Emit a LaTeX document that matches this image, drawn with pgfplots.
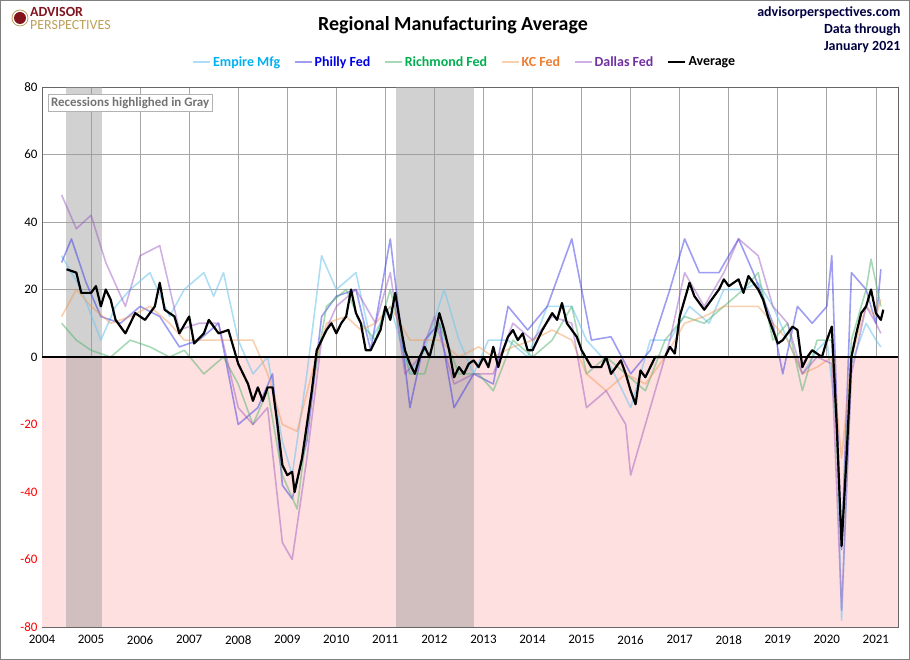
\documentclass[border=0pt]{standalone}
\usepackage{pgfplots}
\pgfplotsset{compat=1.18}
\usepackage{fontspec}
\setmainfont{Carlito}
\definecolor{cEmp}{RGB}{120,200,240}
\definecolor{cPhil}{RGB}{60,60,230}
\definecolor{cRich}{RGB}{80,180,110}
\definecolor{cKC}{RGB}{240,150,80}
\definecolor{cDal}{RGB}{150,80,190}
\definecolor{tEmp}{RGB}{0,176,240}
\definecolor{tPhil}{RGB}{0,0,230}
\definecolor{tRich}{RGB}{0,176,80}
\definecolor{tKC}{RGB}{237,125,49}
\definecolor{tDal}{RGB}{112,48,160}
\definecolor{apred}{RGB}{130,20,30}
\definecolor{apgold}{RGB}{190,160,90}
\begin{document}
\begin{tikzpicture}
\useasboundingbox (-42bp,-33bp) rectangle (868bp,627bp);
\draw[gray,line width=1pt] (-41.5bp,-32.5bp) rectangle (867.5bp,626.5bp);
\begin{axis}[at={(0,0)},anchor=south west,scale only axis,width=856bp,height=540bp,
 xmin=2004,xmax=2021.45,ymin=-80,ymax=80,
 xtick={2004,...,2021},ytick={-80,-60,...,80},
 xticklabel style={/pgf/number format/1000 sep={},yshift=-5bp},
 yticklabel={\pgfmathparse{\tick<0}\ifnum\pgfmathresult=1 \textcolor{red}{\pgfmathprintnumber{\tick}}\else\pgfmathprintnumber{\tick}\fi},
 yticklabel style={xshift=-1bp},
 /pgf/number format/assume math mode=true,
 tick label style={font=\fontsize{13}{15}\selectfont},
 grid=major,grid style={gray!70,line width=0.6pt},
 axis line style={gray!80!black,line width=0.8pt},
 tick style={draw=none},
 legend style={at={(0.494,1.046)},anchor=center,draw=none,fill=none,legend columns=6,
   font=\fontsize{14}{16}\selectfont\bfseries,/tikz/every even column/.append style={column sep=12pt}},
 legend cell align=left,
 every axis plot/.append style={line width=1.6pt,line join=round},
]
\addplot[draw=none,fill=red!12,forget plot] coordinates {(2004,0)(2021.45,0)(2021.45,-80)(2004,-80)} --cycle;
\addplot[draw=none,fill=black!40,opacity=0.45,forget plot] coordinates {(2004.48,80)(2005.22,80)(2005.22,-80)(2004.48,-80)} --cycle;
\addplot[draw=none,fill=black!40,opacity=0.45,forget plot] coordinates {(2011.22,80)(2012.81,80)(2012.81,-80)(2011.22,-80)} --cycle;
\addplot[cEmp,opacity=0.6] coordinates {(2004.4,30)(2004.8,20)(2005.2,5)(2005.5,15)(2005.8,20)(2006.2,25)(2006.6,12)(2006.9,20)(2007.3,25)(2007.5,18)(2007.7,25)(2008.0,5)(2008.3,-5)(2008.6,0)(2008.9,-25)(2009.1,-35)(2009.4,-5)(2009.7,30)(2010.0,20)(2010.4,25)(2010.7,5)(2011.1,15)(2011.5,-5)(2011.8,2)(2012.2,20)(2012.5,5)(2012.8,-5)(2013.1,5)(2013.5,5)(2013.9,0)(2014.3,15)(2014.8,15)(2015.1,5)(2015.6,-3)(2016.0,-15)(2016.4,5)(2016.8,5)(2017.2,15)(2017.6,10)(2017.9,20)(2018.3,20)(2018.6,22)(2018.9,15)(2019.2,5)(2019.5,-5)(2019.8,2)(2020.0,5)(2020.2,-20)(2020.3,-78)(2020.5,-2)(2020.8,10)(2021.0,5)(2021.1,3)};
\addlegendentry{\textcolor{tEmp}{Empire Mfg}}
\addplot[cPhil,opacity=0.5] coordinates {(2004.4,28)(2004.6,35)(2004.9,22)(2005.2,12)(2005.6,10)(2006.0,15)(2006.4,12)(2006.8,3)(2007.2,5)(2007.6,10)(2008.0,-20)(2008.4,-15)(2008.7,-5)(2008.9,-38)(2009.1,-42)(2009.4,-25)(2009.7,12)(2010.0,18)(2010.4,20)(2010.7,2)(2011.1,35)(2011.5,-15)(2011.8,5)(2012.1,10)(2012.4,-15)(2012.8,-5)(2013.2,-8)(2013.5,15)(2013.9,8)(2014.3,15)(2014.8,35)(2015.2,5)(2015.6,6)(2016.0,-5)(2016.4,2)(2016.8,20)(2017.1,35)(2017.4,25)(2017.8,25)(2018.2,35)(2018.5,25)(2018.9,10)(2019.1,-5)(2019.4,15)(2019.7,10)(2020.0,15)(2020.1,30)(2020.3,-57)(2020.5,25)(2020.8,20)(2021.0,10)(2021.1,26)};
\addlegendentry{\textcolor{tPhil}{Philly Fed}}
\addplot[cRich,opacity=0.5] coordinates {(2004.4,10)(2004.7,5)(2005.0,2)(2005.4,0)(2005.8,5)(2006.2,3)(2006.6,0)(2006.9,2)(2007.3,-5)(2007.7,0)(2008.0,-8)(2008.3,-20)(2008.6,-10)(2008.9,-35)(2009.2,-45)(2009.5,-10)(2009.8,15)(2010.2,20)(2010.5,10)(2010.8,5)(2011.1,20)(2011.5,-5)(2011.8,-5)(2012.1,10)(2012.5,-5)(2012.9,-5)(2013.2,-10)(2013.6,5)(2014.0,0)(2014.4,5)(2014.8,15)(2015.1,-5)(2015.5,0)(2015.9,-5)(2016.3,-10)(2016.7,5)(2017.1,12)(2017.5,10)(2017.9,15)(2018.3,20)(2018.6,25)(2018.9,5)(2019.2,10)(2019.5,-10)(2019.8,5)(2020.1,5)(2020.3,-55)(2020.5,5)(2020.8,20)(2020.9,29)(2021.1,15)};
\addlegendentry{\textcolor{tRich}{Richmond Fed}}
\addplot[cKC,opacity=0.45] coordinates {(2004.4,12)(2004.7,20)(2005.0,15)(2005.4,10)(2005.8,12)(2006.2,15)(2006.6,10)(2006.9,5)(2007.3,5)(2007.7,5)(2008.0,5)(2008.3,5)(2008.6,-5)(2008.9,-20)(2009.2,-22)(2009.5,-5)(2009.8,10)(2010.2,12)(2010.5,8)(2010.8,10)(2011.1,15)(2011.5,5)(2011.8,5)(2012.1,5)(2012.5,0)(2012.9,3)(2013.2,0)(2013.6,3)(2014.0,5)(2014.4,8)(2014.8,5)(2015.1,-5)(2015.5,-10)(2015.9,-5)(2016.3,-8)(2016.7,0)(2017.1,10)(2017.5,12)(2017.9,15)(2018.3,15)(2018.6,15)(2018.9,10)(2019.2,5)(2019.5,-5)(2019.8,-3)(2020.1,0)(2020.3,-30)(2020.5,0)(2020.8,15)(2021.0,12)(2021.1,17)};
\addlegendentry{\textcolor{tKC}{KC Fed}}
\addplot[cDal,opacity=0.45] coordinates {(2004.4,48)(2004.7,38)(2005.0,42)(2005.3,28)(2005.7,15)(2006.0,30)(2006.4,33)(2006.8,8)(2007.2,10)(2007.6,10)(2008.0,-15)(2008.3,-20)(2008.6,-15)(2008.9,-55)(2009.1,-60)(2009.4,-30)(2009.7,5)(2010.0,15)(2010.4,20)(2010.8,10)(2011.1,25)(2011.4,-5)(2011.7,0)(2012.0,12)(2012.4,-8)(2012.8,-5)(2013.2,-5)(2013.6,10)(2014.0,5)(2014.4,12)(2014.8,10)(2015.1,-15)(2015.5,-10)(2015.9,-20)(2016.0,-35)(2016.4,-15)(2016.8,5)(2017.1,25)(2017.5,15)(2017.9,25)(2018.2,35)(2018.6,30)(2018.9,15)(2019.2,10)(2019.5,-5)(2019.8,0)(2020.1,-2)(2020.3,-75)(2020.5,-5)(2020.8,15)(2021.0,10)(2021.1,7)};
\addlegendentry{\textcolor{tDal}{Dallas Fed}}
\addplot[black,line width=2.2pt] coordinates {(2004.5,26)(2004.7,25)(2004.8,19)(2005.0,19)(2005.1,21)(2005.2,15)(2005.3,20)(2005.4,17)(2005.5,11)(2005.7,7)(2005.9,13)(2006.1,11)(2006.3,15)(2006.4,22)(2006.5,14)(2006.7,12)(2006.8,7)(2007.0,12)(2007.1,4)(2007.3,7)(2007.4,11)(2007.6,7)(2007.8,8)(2007.9,3)(2008.0,-2)(2008.2,-8)(2008.3,-13)(2008.4,-9)(2008.5,-13)(2008.6,-9)(2008.7,-9)(2008.8,-20)(2008.9,-32)(2009.0,-35)(2009.1,-34)(2009.15,-40)(2009.3,-30)(2009.4,-20)(2009.5,-10)(2009.6,2)(2009.8,8)(2009.9,10)(2010.0,7)(2010.1,10)(2010.2,12)(2010.3,20)(2010.4,13)(2010.5,10)(2010.6,2)(2010.7,2)(2010.9,8)(2011.0,15)(2011.1,11)(2011.2,19)(2011.3,10)(2011.4,2)(2011.5,-2)(2011.6,-5)(2011.7,0)(2011.8,3)(2011.9,0)(2012.0,6)(2012.1,13)(2012.2,8)(2012.3,2)(2012.4,-6)(2012.5,-3)(2012.6,-5)(2012.7,-2)(2012.8,-1)(2012.9,-3)(2013.0,0)(2013.1,-3)(2013.2,3)(2013.3,-3)(2013.4,2)(2013.5,6)(2013.6,8)(2013.7,5)(2013.8,7)(2013.9,2)(2014.0,2)(2014.2,8)(2014.4,13)(2014.5,11)(2014.6,16)(2014.7,10)(2014.8,8)(2014.9,6)(2015.0,2)(2015.2,-3)(2015.4,-3)(2015.5,0)(2015.6,-5)(2015.8,-1)(2015.9,-5)(2016.0,-10)(2016.1,-14)(2016.2,-4)(2016.3,-6)(2016.5,0)(2016.7,0)(2016.8,3)(2016.9,1)(2017.0,12)(2017.2,22)(2017.3,18)(2017.5,14)(2017.6,16)(2017.8,20)(2017.9,23)(2018.0,21)(2018.2,23)(2018.3,19)(2018.4,24)(2018.5,22)(2018.6,20)(2018.7,17)(2018.8,12)(2018.9,8)(2019.0,4)(2019.1,5)(2019.3,9)(2019.4,8)(2019.5,-3)(2019.6,0)(2019.7,2)(2019.9,0)(2020.0,5)(2020.1,9)(2020.2,-20)(2020.3,-56)(2020.4,-30)(2020.5,0)(2020.6,7)(2020.7,13)(2020.8,15)(2020.9,20)(2021.0,13)(2021.1,11)(2021.15,14)};
\addlegendentry{Average}
\addplot[black,line width=1.2pt,forget plot] coordinates {(2004,0)(2021.45,0)};
\node[draw=gray!60,fill=white,anchor=north west,inner sep=3pt,text=gray!90!black,font=\fontsize{13}{15}\selectfont\bfseries] at (axis cs:2004.12,78) {Recessions highlighed in Gray};
\end{axis}
\node[font=\fontsize{20}{24}\selectfont\bfseries] at (411bp,602bp) {Regional Manufacturing Average};
\node[anchor=north east,align=right,font=\fontsize{14}{17}\selectfont\bfseries,text=black!75!blue] at (862bp,624bp) {advisorperspectives.com\\Data through\\January 2021};
\fill[apred] (-22bp,609bp) circle (6bp);
\draw[apgold,line width=0.8pt] (-22bp,609bp) circle (8bp);
\node[anchor=south west,inner sep=0pt,text=apred,font=\fontsize{14}{14}\selectfont\bfseries] at (-12bp,610bp) {ADVISOR};
\node[anchor=north west,inner sep=0pt,text=apgold,font=\fontsize{14}{14}\selectfont] at (-12bp,607bp) {PERSPECTIVES};
\end{tikzpicture}
\end{document}
